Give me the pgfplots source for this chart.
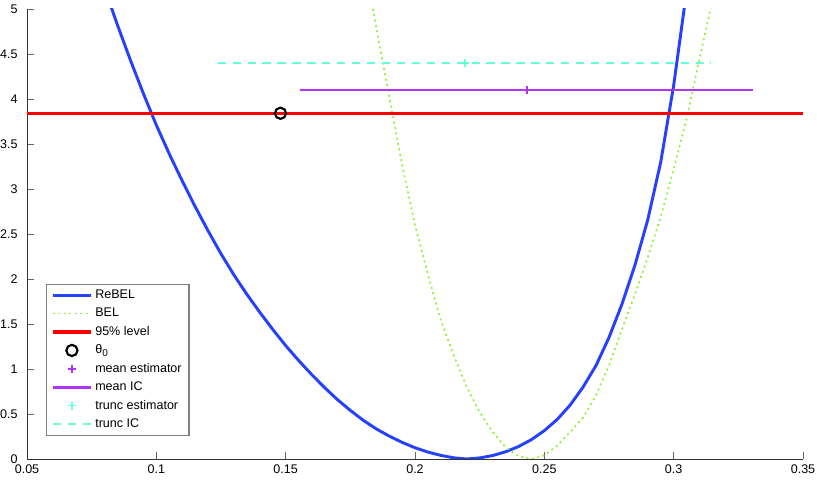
\documentclass[border=0pt]{standalone}
\usepackage{pgfplots}
\pgfplotsset{compat=1.18}
\usepackage{fontspec}
\setmainfont{Liberation Sans}
\definecolor{rebel}{RGB}{38,64,255}
\definecolor{bel}{RGB}{135,245,50}
\definecolor{meanc}{RGB}{178,52,245}
\definecolor{truncc}{RGB}{100,255,220}
\begin{document}
\begin{tikzpicture}
\useasboundingbox (-20.25pt,-16.5pt) rectangle (592.5pt,344.25pt);
\begin{axis}[
  scale only axis, width=582pt, height=337.5pt,
  xmin=0.05, xmax=0.35, ymin=0, ymax=5,
  axis x line=bottom, axis y line=left,
  axis line style={-, draw=black!80},
  tick align=inside, major tick length=5.5pt,
  tick style={black!60, line width=0.6pt},
  xtick={0.05,0.1,0.15,0.2,0.25,0.3,0.35},
  xticklabels={0.05,0.1,0.15,0.2,0.25,0.3,0.35},
  ytick={0,0.5,1,1.5,2,2.5,3,3.5,4,4.5,5},
  yticklabels={0,0.5,1,1.5,2,2.5,3,3.5,4,4.5,5},
  tick label style={font=\fontsize{9.4}{11}\selectfont},
  xticklabel style={yshift=-0.5pt},
  yticklabel style={xshift=-3.5pt},
  /pgf/number format/assume math mode=true,
  legend style={at={(0.0245,0.051)}, anchor=south west, draw=black!50, line width=0.8pt,
    font=\fontsize{9.4}{11}\selectfont, row sep=1.6pt, inner xsep=3.5pt, inner ysep=2.5pt},
  legend cell align=left,
  legend image code/.code={\draw[mark repeat=2,mark phase=2] plot coordinates {(0cm,0cm) (0.5cm,0cm) (1cm,0cm)};},
]
\addplot[rebel, line width=2.2pt] coordinates {
(0.080,5.23) (0.085,4.82) (0.090,4.43) (0.095,4.06) (0.100,3.71) (0.105,3.39)
(0.110,3.09) (0.115,2.805) (0.120,2.535) (0.125,2.28) (0.130,2.045) (0.135,1.83)
(0.140,1.63) (0.145,1.44) (0.150,1.26) (0.155,1.095) (0.160,0.94) (0.165,0.795)
(0.170,0.66) (0.175,0.54) (0.180,0.43) (0.185,0.335) (0.190,0.255) (0.195,0.185)
(0.200,0.125) (0.205,0.077) (0.210,0.04) (0.215,0.013) (0.220,0.0) (0.225,0.012)
(0.230,0.038) (0.235,0.08) (0.240,0.138) (0.245,0.215) (0.250,0.315) (0.255,0.44)
(0.260,0.60) (0.265,0.80) (0.270,1.04) (0.275,1.35) (0.280,1.72) (0.285,2.15)
(0.290,2.66) (0.295,3.30) (0.300,4.15) (0.305,5.2)
};
\addlegendentry{ReBEL}
\addplot[bel, line width=1.2pt, dash pattern=on 1.5pt off 2.6pt] coordinates {
(0.180,5.6) (0.185,4.80) (0.190,4.03) (0.195,3.27) (0.200,2.60) (0.205,2.05)
(0.210,1.54) (0.215,1.15) (0.220,0.80) (0.225,0.52) (0.230,0.30) (0.235,0.13)
(0.240,0.03) (0.245,0.0) (0.250,0.04) (0.255,0.15) (0.260,0.30) (0.265,0.46)
(0.270,0.71) (0.275,1.04) (0.280,1.44) (0.285,1.83) (0.290,2.24) (0.295,2.69)
(0.300,3.22) (0.305,3.78) (0.310,4.45) (0.315,5.1)
};
\addlegendentry{BEL}
\addplot[red, line width=2.6pt] coordinates {(0.05,3.8415) (0.35,3.8415)};
\addlegendentry{95\% level}
\addplot[only marks, mark=o, mark size=4.2pt, line width=1.6pt, black] coordinates {(0.148,3.8415)};
\addlegendentry{θ\raisebox{-0.45ex}{\fontsize{7.5}{8}\selectfont 0}}
\addplot[only marks, mark=+, mark size=3pt, line width=1pt, color=meanc, mark options={draw=meanc}] coordinates {(0.2433,4.1)};
\addlegendentry{mean estimator}
\addplot[meanc, line width=2.1pt] coordinates {(0.1555,4.1) (0.3306,4.1)};
\addlegendentry{mean IC}
\addplot[only marks, mark=+, mark size=3pt, line width=1pt, color=truncc, mark options={draw=truncc}] coordinates {(0.2193,4.4)};
\addlegendentry{trunc estimator}
\addplot[truncc, line width=2pt, dash pattern=on 6.2pt off 5pt] coordinates {(0.1237,4.4) (0.3144,4.4)};
\addlegendentry{trunc IC}
\end{axis}
\end{tikzpicture}
\end{document}
